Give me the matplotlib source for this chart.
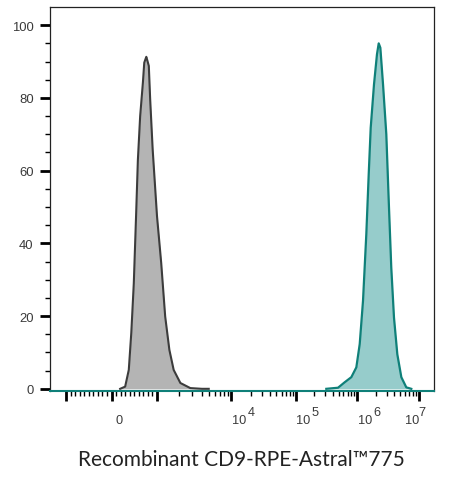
import numpy as np
import matplotlib
matplotlib.use("Agg")
import matplotlib.pyplot as plt
from matplotlib.transforms import ScaledTranslation
from matplotlib.ticker import FixedLocator, NullFormatter

# ---------------- data ----------------
grey_x = [190, 300, 380, 435, 490, 540, 580, 630, 690, 720, 745, 765, 790,
          820, 850, 905, 1000, 1140, 1290, 1470, 1680, 2070, 2820, 4050, 5000]
grey_y = [0, 0.6, 5.2, 15.4, 29, 47.5, 63, 75, 84.2, 89.7, 90.6, 91.3, 90.2,
          88.8, 79.6, 65.8, 47.5, 34.6, 19.9, 10.7, 5.2, 1.6, 0.2, 0, 0]

teal_x = [3.14e5, 4.89e5, 6.28e5, 8.07e5, 9.75e5, 1.106e6, 1.25e6, 1.413e6,
          1.545e6, 1.664e6, 1.88e6, 2.10e6, 2.24e6, 2.38e6, 2.63e6, 2.97e6,
          3.25e6, 3.57e6, 3.95e6, 4.47e6, 5.19e6, 6.24e6, 7.51e6]
teal_y = [0, 0.3, 1.8, 3.2, 5.9, 12.3, 24.2, 42.5, 59, 71.8, 83.7, 92, 95,
          93.8, 83.7, 70, 51.7, 33.4, 19.6, 9.5, 3.2, 0.4, 0]

x_major = [-1e3, 0, 1e3, 1e4, 1e5, 1e6, 1e7]
x_base_labels = ["", "0", "", "10", "10", "10", "10"]
x_exponents = ["", "", "", "4", "5", "6", "7"]
x_minor = ([-k * 100 for k in range(1, 10)] + [k * 100 for k in range(1, 10)]
           + [k * 10.0 ** e for e in range(3, 7) for k in range(2, 10)])
y_major = [0, 20, 40, 60, 80, 100]
y_minor = [v for v in range(0, 105, 5) if v % 20]
xlabel = "Recombinant CD9-RPE-Astral\u2122775"

# ---------------- biexponential-like axis transform ----------------
G_ANCH = np.array([-1.0, 0.0, 1.0, 2.0, 3.0, 4.0, 5.0])
P_ANCH = np.array([66.0, 111.5, 157.0, 231.0, 296.0, 357.0, 419.0])


def _interp_ext(v, xs, ys):
    v = np.asarray(v, dtype=float)
    out = np.interp(v, xs, ys)
    s0 = (ys[1] - ys[0]) / (xs[1] - xs[0])
    s1 = (ys[-1] - ys[-2]) / (xs[-1] - xs[-2])
    out = np.where(v < xs[0], ys[0] + (v - xs[0]) * s0, out)
    out = np.where(v > xs[-1], ys[-1] + (v - xs[-1]) * s1, out)
    return out


def fwd(x):
    x = np.asarray(x, dtype=float)
    ax_ = np.abs(x)
    with np.errstate(divide="ignore", invalid="ignore"):
        g = np.where(ax_ <= 1000, x / 1000.0,
                     np.sign(x) * (1 + np.log10(np.maximum(ax_, 1e-12) / 1000.0)))
    return _interp_ext(g, G_ANCH, P_ANCH)


def inv(p):
    g = _interp_ext(p, P_ANCH, G_ANCH)
    ag = np.abs(g)
    return np.where(ag <= 1, g * 1000.0, np.sign(g) * 1000.0 * 10 ** (ag - 1))


TICK_FONT = "Liberation Sans"
plt.rcParams["font.family"] = [TICK_FONT, "DejaVu Sans"]

fig = plt.figure(figsize=(4.49, 4.81), dpi=100)
ax = fig.add_axes([50 / 449, 89 / 481, 384 / 449, 384 / 481])
ax.set_xscale("function", functions=(fwd, inv))
ax.set_xlim(float(inv(50.0)), float(inv(434.0)))
ax.set_ylim(-0.6, 105)

grey_fill, grey_edge = "#b4b4b4", "#3c3c3c"
teal_fill, teal_edge = "#96cccb", "#0f8079"

ax.fill_between(grey_x, grey_y, 0, color=grey_fill, lw=0, zorder=1)
ax.plot(grey_x, grey_y, color=grey_edge, lw=1.5, zorder=2)
ax.fill_between(teal_x, teal_y, 0, color=teal_fill, lw=0, zorder=1)
ax.plot(teal_x, teal_y, color=teal_edge, lw=1.6, zorder=2)

for s in ("left", "top", "right"):
    ax.spines[s].set_color("#222222")
    ax.spines[s].set_linewidth(0.9)
ax.spines["bottom"].set_color(teal_edge)
ax.spines["bottom"].set_linewidth(1.5)

ax.xaxis.set_major_locator(FixedLocator(x_major))
ax.xaxis.set_minor_locator(FixedLocator(x_minor))
ax.set_xticklabels(x_base_labels)
ax.xaxis.set_minor_formatter(NullFormatter())
ax.yaxis.set_major_locator(FixedLocator(y_major))
ax.yaxis.set_minor_locator(FixedLocator(y_minor))
ax.set_yticklabels([str(v) for v in y_major])

label_color = "#3a3a3a"
ax.tick_params(axis="both", which="major", direction="out", length=7.5,
               width=2, color="black", labelcolor=label_color,
               labelfontfamily=TICK_FONT)
ax.tick_params(axis="both", which="minor", direction="out", length=3.8,
               width=1, color="black")
ax.tick_params(axis="y", which="major", pad=4.3, labelsize=9.4)
ax.tick_params(axis="x", which="major", pad=15.8, labelsize=9.2)

# horizontal placement of the base labels and exponents (pixels from tick)
base_dx = [0, 7.5, 0, 8.3, 7.5, 8.5, -7.0]
exp_dx = [0, 0, 0, 16.7, 15.3, 16.0, -1.0]
for lab, dx in zip(ax.get_xticklabels(), base_dx):
    lab.set_verticalalignment("baseline")
    lab.set_transform(lab.get_transform()
                      + ScaledTranslation(dx / 100, 0, fig.dpi_scale_trans))

xtrans = ax.get_xaxis_transform()
for xv, ex, dx in zip(x_major, x_exponents, exp_dx):
    if ex:
        ax.text(xv, 0, ex, ha="left", va="baseline", fontsize=9.2,
                color=label_color, family=TICK_FONT, clip_on=False,
                transform=xtrans + ScaledTranslation(dx / 100, -23.7 / 100,
                                                     fig.dpi_scale_trans))

fig.text(241.5 / 449, 1 - 460.5 / 481, xlabel, ha="center", va="center",
         fontsize=15, color="#222222", family=["Lato", "DejaVu Sans"])

fig.savefig("out.png", dpi=100)
